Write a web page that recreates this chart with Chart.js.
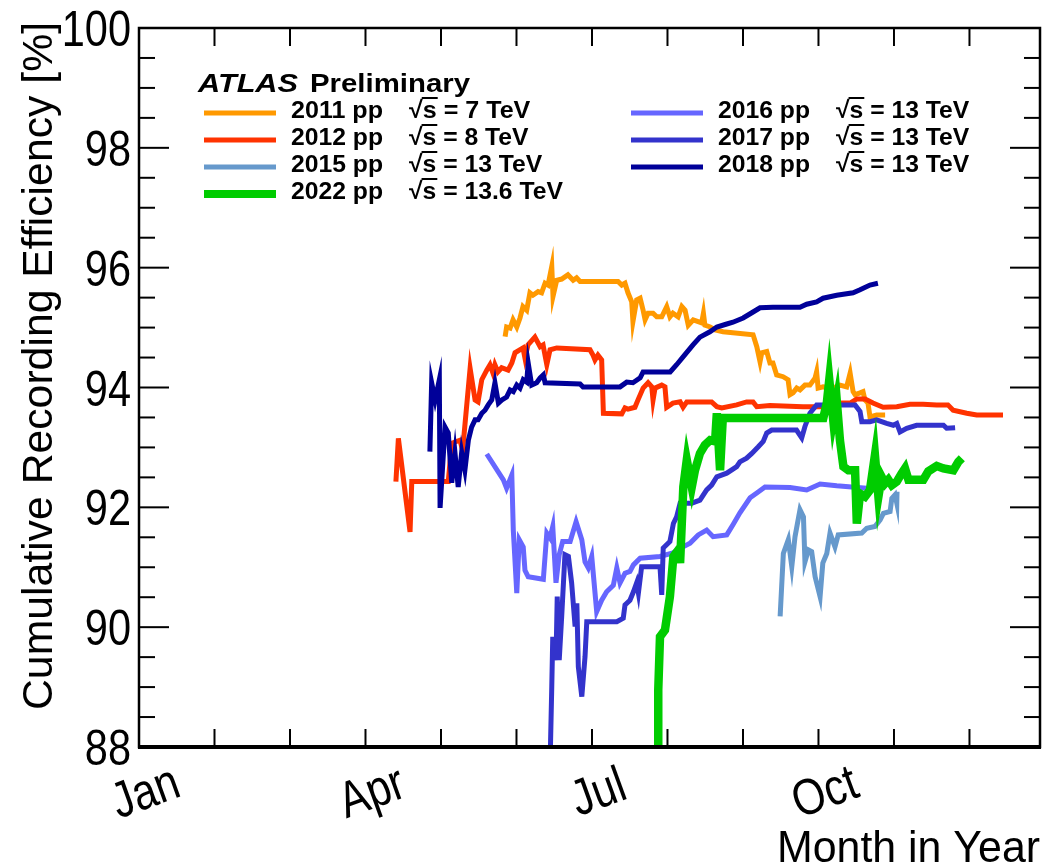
<!DOCTYPE html>
<html lang="en">
<head>
<meta charset="UTF-8">
<title>Cumulative Recording Efficiency</title>
<style>
  body { margin: 0; background: #fff; }
  #wrap { width: 1047px; height: 867px; }
</style>
<script src="https://cdn.jsdelivr.net/npm/chart.js"></script>
</head>
<body>
<div id="wrap"><canvas id="effChart" width="1047" height="867"></canvas></div>
<script>
// [day of year, cumulative recording efficiency in %]
const run2011 = [[147.5,94.85],[148.1,95.01],[149.5,94.99],[150.7,95.13],[152.2,95.01],[153.5,95.16],[154.7,95.35],[156.2,95.29],[157.5,95.58],[158.7,95.54],
  [160.8,95.60],[162.2,95.58],[163.6,95.74],[164.8,95.71],[166.3,96.02],[166.8,95.52],[168.3,95.79],[170.3,95.81],[172.8,95.88],[174.9,95.79],
  [176.3,95.83],[177.7,95.77],[193.0,95.77],[194.5,95.71],[195.8,95.74],[197.0,95.58],[198.5,95.43],[199.0,95.10],[200.5,95.46],[201.9,95.49],
  [203.1,95.29],[203.9,95.13],[205.1,95.24],[207.1,95.24],[208.6,95.18],[210.6,95.18],[212.6,95.35],[213.9,95.18],[215.1,95.24],[217.2,95.18],
  [218.7,95.35],[220.0,95.29],[221.3,95.04],[223.3,95.13],[226.7,95.08],[227.4,95.24],[228.0,95.04],[230.1,95.01],[232.1,94.96],[235.3,94.93],
  [247.4,94.88],[248.9,94.68],[250.2,94.43],[250.9,94.58],[252.9,94.60],[254.2,94.41],[255.4,94.41],[256.9,94.21],[259.5,94.18],[261.5,94.13],
  [262.3,93.88],[263.5,93.91],[265.0,93.99],[266.3,93.96],[268.3,94.04],[270.3,94.04],[272.4,94.16],[273.0,94.26],[273.6,93.99],[275.6,94.01],
  [279.6,93.99],[282.4,94.04],[285.1,94.01],[286.5,94.24],[287.7,93.93],[288.5,93.88],[290.5,93.91],[291.7,93.93],[292.5,93.79],[293.7,93.74],
  [294.5,93.51],[297.2,93.54],[300.6,93.54]];

const run2012 = [[103.5,92.43],[104.5,93.15],[109.2,91.59],[109.9,92.43],[124.6,92.43],[126.0,93.07],[129.3,93.12],[130.4,92.96],[133.4,94.32],[135.4,93.79],
  [136.6,93.76],[138.1,94.13],[140.1,94.29],[141.4,94.38],[142.6,94.24],[143.4,94.38],[144.6,94.26],[146.1,94.33],[148.7,94.29],[150.2,94.41],
  [151.5,94.58],[154.7,94.66],[155.5,94.49],[156.7,94.71],[159.5,94.84],[161.6,94.68],[162.8,94.71],[164.3,94.38],[165.6,94.63],[168.3,94.66],
  [181.7,94.63],[182.9,94.54],[183.7,94.46],[184.9,94.54],[186.4,94.46],[187.1,93.57],[194.5,93.56],[195.8,93.66],[197.0,93.64],[199.8,93.67],
  [201.0,93.79],[203.1,93.99],[205.1,94.08],[206.6,94.01],[207.1,93.79],[207.9,93.99],[210.6,94.04],[211.9,94.01],[212.6,93.67],[215.1,93.74],
  [218.0,93.76],[219.2,93.67],[220.7,93.76],[226.0,93.76],[230.7,93.76],[232.8,93.68],[234.8,93.66],[240.8,93.71],[244.8,93.76],[247.4,93.76],
  [248.9,93.68],[254.2,93.70],[267.5,93.68],[278.4,93.68],[282.4,93.74],[286.5,93.74],[289.2,93.81],[292.5,93.81],[295.7,93.74],[299.8,93.67],
  [305.3,93.68],[310.6,93.72],[315.9,93.72],[321.4,93.71],[325.9,93.71],[328.0,93.62],[333.5,93.57],[337.5,93.54],[348.1,93.54]];

const run2015 = [[258.3,90.18],[259.6,91.23],[261.6,91.46],[263.0,91.01],[264.3,91.51],[266.3,91.96],[267.7,91.84],[268.3,91.09],[269.7,91.29],[271.0,91.26],
  [272.4,90.84],[274.4,90.51],[275.5,91.07],[277.1,91.23],[278.4,91.57],[280.4,91.34],[281.7,91.54],[291.2,91.57],[293.2,91.65],[296.5,91.68],
  [298.6,91.79],[299.9,91.90],[302.6,91.93],[303.3,92.15],[304.6,92.21],[305.3,92.07],[305.4,92.26]];

const run2016 = [[140.1,92.89],[146.8,92.46],[148.1,92.32],[150.2,92.54],[150.8,91.62],[152.2,90.57],[153.2,91.46],[154.8,91.34],[155.5,90.95],[156.8,90.84],
  [162.9,90.80],[164.3,91.57],[165.6,91.49],[166.7,91.68],[168.0,90.74],[169.3,91.21],[170.7,91.43],[173.7,91.43],[176.1,91.76],[178.4,91.46],
  [179.7,91.09],[181.0,90.99],[182.4,91.18],[184.4,90.26],[186.4,90.45],[188.4,90.59],[191.1,90.70],[192.5,90.99],[193.8,90.74],[195.8,90.90],
  [197.8,90.93],[199.2,91.04],[201.9,91.15],[209.9,91.18],[215.1,91.24],[219.2,91.34],[222.0,91.40],[225.3,91.54],[228.7,91.62],[231.3,91.51],
  [236.8,91.54],[239.3,91.71],[242.1,91.91],[246.2,92.16],[248.9,92.24],[252.2,92.34],[262.3,92.33],[269.0,92.29],[274.4,92.39],[281.1,92.36],
  [293.2,92.32],[296.0,92.32]];

const run2017 = [[165.5,87.5],[166.3,89.01],[166.7,89.84],[168.0,89.45],[168.5,90.51],[169.3,89.45],[170.3,90.18],[171.6,91.21],[173.0,91.18],[174.3,90.74],
  [175.7,90.01],[176.4,90.40],[177.0,89.34],[178.4,88.84],[179.7,89.51],[180.4,90.09],[192.5,90.09],[195.1,90.15],[195.8,90.37],[197.8,90.45],
  [199.2,90.59],[200.5,90.74],[201.2,90.57],[202.5,91.01],[209.9,91.01],[210.6,90.54],[211.2,91.32],[213.9,91.43],[215.3,91.73],[216.6,91.84],
  [218.0,92.07],[222.7,92.07],[226.0,92.12],[228.7,92.29],[230.7,92.37],[232.8,92.51],[236.8,92.57],[240.8,92.68],[242.1,92.76],[244.8,92.82],
  [246.9,92.90],[249.5,93.01],[251.5,93.10],[252.9,93.24],[254.9,93.29],[264.9,93.29],[267.0,93.16],[268.3,93.35],[270.3,93.57],[273.0,93.71],
  [285.1,93.71],[288.5,93.71],[290.5,93.60],[291.2,93.43],[294.5,93.43],[297.2,93.46],[299.2,93.43],[301.2,93.40],[303.9,93.37],[305.3,93.40],
  [306.6,93.26],[309.3,93.32],[313.3,93.37],[324.1,93.37],[325.4,93.32],[328.8,93.33]];

const run2018 = [[117.2,92.93],[117.9,94.08],[119.3,93.79],[121.0,94.13],[121.3,91.99],[123.3,93.34],[124.6,93.24],[126.0,92.41],[127.3,92.91],[128.6,92.34],
  [130.0,92.92],[131.3,92.62],[132.7,93.12],[134.0,93.34],[135.4,93.46],[136.6,93.46],[138.1,93.57],[139.4,93.62],[140.7,93.71],[142.1,93.79],
  [143.4,94.08],[144.8,93.74],[146.1,93.79],[148.1,93.84],[149.5,93.96],[150.8,93.93],[152.2,94.04],[153.5,93.99],[154.8,94.13],[156.2,94.09],
  [156.8,94.41],[158.2,94.04],[160.2,94.08],[161.6,94.16],[162.9,94.21],[163.6,94.08],[177.7,94.06],[178.9,94.01],[193.8,94.01],[196.5,94.09],
  [199.0,94.08],[201.9,94.16],[203.1,94.26],[214.0,94.26],[216.6,94.38],[219.2,94.51],[223.2,94.71],[226.0,94.84],[230.0,94.93],[232.8,95.01],
  [236.8,95.06],[239.3,95.09],[243.4,95.16],[247.4,95.26],[250.2,95.33],[255.4,95.34],[266.3,95.34],[269.0,95.39],[273.0,95.43],[275.6,95.49],
  [281.1,95.54],[287.7,95.58],[290.5,95.63],[294.5,95.71],[297.7,95.74]];

const run2022 = [[209.5,87.5],[209.2,88.95],[209.9,89.84],[211.9,89.95],[213.9,90.51],[215.3,91.18],[217.3,91.29],[218.0,91.07],[219.3,92.34],[220.7,92.79],
  [222.7,92.34],[224.0,92.62],[226.0,92.90],[228.0,93.04],[230.1,93.12],[232.1,93.10],[232.8,93.57],[234.1,92.62],[235.2,93.49],[275.7,93.49],
  [277.1,93.74],[278.1,94.13],[279.7,93.46],[281.1,93.79],[282.4,93.12],[283.8,92.68],[285.8,92.62],[288.5,92.62],[289.2,91.73],[290.5,92.23],
  [292.5,92.18],[294.5,92.29],[296.5,92.87],[297.9,92.18],[299.2,92.51],[300.6,92.40],[301.9,92.46],[303.3,92.37],[305.3,92.43],[307.3,92.57],
  [308.6,92.65],[310.0,92.46],[316.0,92.46],[318.0,92.60],[321.4,92.69],[324.1,92.65],[328.1,92.62],[330.1,92.76],[331.5,92.82]];

const years = ['2011', '2012', '2015', '2016', '2017', '2018', '2022'];
const energies = ['7', '8', '13', '13', '13', '13', '13.6'];
const runs = [run2011, run2012, run2015, run2016, run2017, run2018, run2022];

const yTicks = [88, 90, 92, 94, 96, 98, 100];
const monthNames = ['Jan', 'Feb', 'Mar', 'Apr', 'May', 'Jun', 'Jul', 'Aug', 'Sep', 'Oct', 'Nov', 'Dec'];
const labelledMonths = [0, 3, 6, 9];

const colors = ['#ff9900', '#ff3300', '#6699cc', '#6666ff', '#3333cc', '#000099', '#00cc00'];
const widths = [5, 5, 5, 5, 5, 5, 8.5];
const drawOrder = [6, 5, 4, 3, 2, 1, 0];   // lower = on top
const legendLeft = [0, 1, 2, 6];
const legendRight = [3, 4, 5];

const daysPerMonth = 365 / 12;
const FONT = "'Liberation Sans', Arial, Helvetica, sans-serif";

function text(ctx, str, x, y, o) {
  ctx.save();
  ctx.font = o.font;
  ctx.textAlign = o.align || 'left';
  ctx.textBaseline = o.baseline || 'alphabetic';
  ctx.translate(x, y);
  if (o.rot) ctx.rotate(o.rot);
  let sx = o.sx || 1;
  if (o.fit) sx = o.fit / ctx.measureText(str).width;
  ctx.scale(sx, 1);
  ctx.fillText(str, 0, 0);
  ctx.restore();
  return sx;
}

function seg(ctx, x1, y1, x2, y2) {
  ctx.beginPath();
  ctx.moveTo(x1, y1);
  ctx.lineTo(x2, y2);
  ctx.stroke();
}

// frame, inward ticks, labels and legend drawn ROOT style
const rootFrame = {
  id: 'rootFrame',
  afterDraw(chart) {
    const { ctx, chartArea: a, scales: { x, y } } = chart;
    ctx.save();
    ctx.strokeStyle = '#000';
    ctx.fillStyle = '#000';

    ctx.lineWidth = 2.5;
    ctx.strokeRect(a.left, a.top, a.right - a.left, a.bottom - a.top);
    ctx.lineWidth = 4;
    seg(ctx, a.left - 1, a.bottom, a.right + 1, a.bottom);

    // y ticks: major every 2 %, minor every 0.5 %
    ctx.lineWidth = 2;
    for (let k = 0; k <= 24; k++) {
      const v = 88 + k * 0.5;
      const py = y.getPixelForValue(v);
      const len = (k % 4 === 0) ? 30 : 16;
      seg(ctx, a.left, py, a.left + len, py);
      seg(ctx, a.right, py, a.right - len, py);
    }
    // x ticks at each month
    for (let m = 1; m * daysPerMonth < x.max; m++) {
      const px = x.getPixelForValue(m * daysPerMonth);
      seg(ctx, px, a.bottom, px, a.bottom - 18);
      seg(ctx, px, a.top, px, a.top + 18);
    }

    yTicks.forEach(v => {
      text(ctx, String(v), a.left - 8, y.getPixelForValue(v) + 18,
        { font: '50px ' + FONT, align: 'right', sx: 0.83 });
    });
    labelledMonths.forEach(m => {
      const px = x.getPixelForValue(m * daysPerMonth);
      text(ctx, monthNames[m], px + 7, a.bottom + 47,
        { font: '51px ' + FONT, align: 'center', baseline: 'middle', sx: 0.83, rot: -20 * Math.PI / 180 });
    });

    text(ctx, 'Cumulative Recording Efficiency [%]', 52, 22,
      { font: '43px ' + FONT, align: 'right', rot: -Math.PI / 2, fit: 688 });
    text(ctx, 'Month in Year', a.right, 862, { font: '44px ' + FONT, align: 'right', fit: 263 });

    // legend
    text(ctx, 'ATLAS', 198, 92, { font: 'italic bold 26px ' + FONT, fit: 100 });
    text(ctx, 'Preliminary', 310, 92, { font: 'bold 26px ' + FONT, fit: 160 });

    const rows = [113, 140, 167, 194];
    const entry = (i, row, x0) => {
      const ly = rows[row];
      ctx.strokeStyle = colors[i];
      ctx.lineWidth = i === 6 ? 8 : 5;
      seg(ctx, x0, ly, x0 + 72, ly);
      ctx.fillStyle = '#000';
      ctx.strokeStyle = '#000';
      const base = ly + 5;
      const k = text(ctx, years[i] + ' pp', x0 + 87, base, { font: 'bold 24px ' + FONT, fit: 92 });
      const ex = x0 + 205;
      ctx.font = 'bold 24px ' + FONT;
      const wr = ctx.measureText('\u221A').width * k;
      const ws = ctx.measureText('s').width * k;
      text(ctx, '\u221A', ex, base, { font: 'bold 24px ' + FONT, sx: k });
      text(ctx, 's', ex + wr, base, { font: 'bold 24px ' + FONT, sx: k });
      ctx.lineWidth = 2;
      seg(ctx, ex + wr - 1, base - 20, ex + wr + ws + 1, base - 20);
      text(ctx, ' = ' + energies[i] + ' TeV', ex + wr + ws, base, { font: 'bold 24px ' + FONT, sx: k });
    };
    legendLeft.forEach((i, r) => entry(i, r, 204));
    legendRight.forEach((i, r) => entry(i, r, 631));

    ctx.restore();
  }
};

const datasets = runs.map((run, i) => ({
  label: years[i] + ' pp',
  data: run.map(([d, e]) => ({ x: d, y: e })),
  borderColor: colors[i],
  borderWidth: widths[i],
  pointRadius: 0,
  fill: false,
  clip: 0,
  order: drawOrder[i]
}));

new Chart(document.getElementById('effChart'), {
  type: 'line',
  data: { datasets: datasets },
  options: {
    responsive: false,
    animation: false,
    devicePixelRatio: 1,
    layout: { padding: { left: 139, top: 28, right: 7, bottom: 120 } },
    scales: {
      x: { type: 'linear', min: 0, max: 363, display: false },
      y: { type: 'linear', min: 88, max: 100, display: false }
    },
    elements: { line: { tension: 0, borderJoinStyle: 'miter', borderCapStyle: 'butt' } },
    plugins: { legend: { display: false }, tooltip: { enabled: false } }
  },
  plugins: [rootFrame]
});
</script>
</body>
</html>
